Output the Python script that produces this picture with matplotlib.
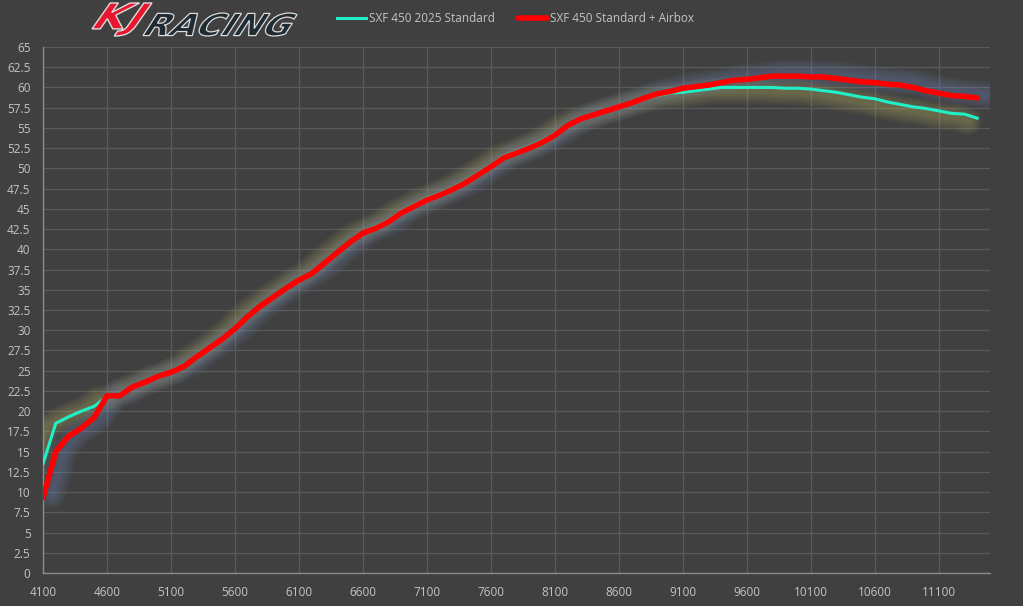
import matplotlib
matplotlib.use('Agg')
import matplotlib.pyplot as plt
from matplotlib.lines import Line2D
from matplotlib.textpath import TextPath
from matplotlib.patches import PathPatch
from matplotlib.font_manager import FontProperties
from matplotlib.transforms import Affine2D, IdentityTransform, offset_copy

# Data (rpm vs power)
rpm = list(range(4100, 11500, 100))

standard = [13.5, 18.5, 19.3, 20.0, 20.6, 21.8, 21.9, 23.0, 23.6, 24.3,
            24.8, 25.5, 26.7, 27.8, 28.9, 30.2, 31.7, 33.0, 34.1, 35.2,
            36.3, 37.1, 38.4, 39.7, 41.0, 42.1, 42.8, 43.6, 44.7, 45.5,
            46.3, 46.9, 47.6, 48.4, 49.4, 50.4, 51.5, 52.1, 52.7, 53.4,
            54.3, 55.4, 56.1, 56.6, 57.1, 57.6, 58.1, 58.6, 59.0, 59.3,
            59.4, 59.6, 59.8, 60.0, 60.0, 60.0, 60.0, 60.0, 59.9, 59.9,
            59.8, 59.6, 59.4, 59.1, 58.8, 58.6, 58.2, 57.9, 57.6, 57.4,
            57.1, 56.8, 56.7, 56.2]

airbox = [9.3, 15.0, 16.9, 17.9, 19.2, 21.9, 21.9, 23.0, 23.6, 24.3,
          24.8, 25.5, 26.7, 27.8, 28.9, 30.2, 31.7, 33.0, 34.1, 35.2,
          36.2, 37.0, 38.3, 39.6, 40.9, 42.0, 42.6, 43.4, 44.5, 45.3,
          46.1, 46.7, 47.4, 48.2, 49.2, 50.2, 51.3, 51.9, 52.5, 53.2,
          54.1, 55.3, 56.1, 56.6, 57.1, 57.6, 58.1, 58.7, 59.2, 59.5,
          59.9, 60.1, 60.3, 60.6, 60.9, 61.0, 61.2, 61.4, 61.4, 61.4,
          61.3, 61.3, 61.1, 60.9, 60.7, 60.6, 60.4, 60.3, 60.0, 59.6,
          59.3, 59.0, 58.9, 58.7]

series_names = ['SXF 450 2025 Standard', 'SXF 450 Standard + Airbox']
x_ticks = list(range(4100, 11101, 500))
y_ticks = [i * 2.5 for i in range(27)]

BG = '#404040'
TEAL = '#1ff0c8'
RED = '#ff0000'
TXT = '#c4c4c4'

fig = plt.figure(figsize=(10.23, 6.06), dpi=100, facecolor=BG)
ax = fig.add_axes([43 / 1023, 33 / 606, 947 / 1023, 526 / 606])
ax.set_facecolor(BG)

# soft glow behind the lines (teal glow shifted left/down, red glow right/up)
teal_glow = offset_copy(ax.transData, fig=fig, x=-9, y=-3, units='dots')
red_glow = offset_copy(ax.transData, fig=fig, x=9, y=3, units='dots')
for w in range(20, 2, -2):
    ax.plot(rpm, standard, color='#c8c070', lw=w, alpha=0.045,
            solid_capstyle='round', solid_joinstyle='round',
            transform=teal_glow, zorder=2)
for w in range(20, 2, -2):
    ax.plot(rpm, airbox, color='#7890c8', lw=w, alpha=0.045,
            solid_capstyle='round', solid_joinstyle='round',
            transform=red_glow, zorder=2)

ax.plot(rpm, standard, color=TEAL, lw=2.2, solid_joinstyle='round', zorder=4)
ax.plot(rpm, airbox, color=RED, lw=4.0, solid_joinstyle='round',
        solid_capstyle='round', zorder=5)

ax.set_xlim(4100, 11500)
ax.set_ylim(0, 65)
ax.set_xticks(x_ticks)
ax.set_yticks(y_ticks)
ax.set_yticklabels([('%g' % v) for v in y_ticks])
ax.grid(True, color='#5a5a5a', lw=0.9)
ax.set_axisbelow(True)
ax.tick_params(length=0, colors=TXT, labelsize=8.5, pad=9)
for lab in ax.get_xticklabels() + ax.get_yticklabels():
    lab.set_family('Open Sans')
for s in ['top', 'right']:
    ax.spines[s].set_visible(False)
for s in ['left', 'bottom']:
    ax.spines[s].set_color('#8c8c8c')
    ax.spines[s].set_linewidth(1)


# logo drawn as stretched, slanted text paths (pixel coords, origin bottom-left)
def logo_text(s, x0, y0, w, h, color, shear=22, lw=1.2):
    fp = FontProperties(family='DejaVu Sans', weight='bold')
    tp = TextPath((0, 0), s, size=50, prop=fp)
    sk = Affine2D().skew_deg(shear, 0)
    ext = tp.transformed(sk).get_extents()
    tr = (sk + Affine2D().translate(-ext.x0, -ext.y0)
          .scale(w / ext.width, h / ext.height).translate(x0, y0))
    patch = PathPatch(tr.transform_path(tp), facecolor=color,
                      edgecolor='#dcdcdc', lw=lw, transform=IdentityTransform())
    fig.add_artist(patch)


logo_text('KJ', 92, 570, 60, 33, '#ea1630', shear=30, lw=1.0)
logo_text('RACING', 143, 570, 154, 23, '#1f2b33', shear=30, lw=0.9)

# legend
H = 606
fig.add_artist(Line2D([337 / 1023, 366 / 1023], [(H - 18) / H] * 2,
                      color=TEAL, lw=2.2, transform=fig.transFigure))
fig.text(369 / 1023, (H - 18) / H, series_names[0], color=TXT, fontsize=8.5,
         family='Open Sans', va='center', ha='left')
fig.add_artist(Line2D([518 / 1023, 547 / 1023], [(H - 18) / H] * 2,
                      color=RED, lw=4.0, solid_capstyle='round',
                      transform=fig.transFigure))
fig.text(550 / 1023, (H - 18) / H, series_names[1], color=TXT, fontsize=8.5,
         family='Open Sans', va='center', ha='left')

fig.savefig('out.png', dpi=100, facecolor=BG)
